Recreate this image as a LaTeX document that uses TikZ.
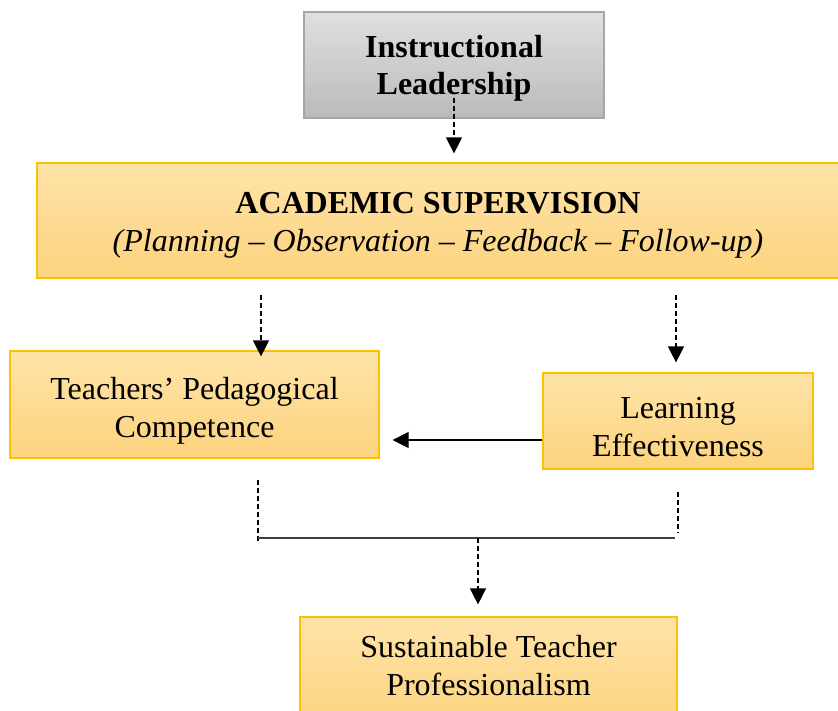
\documentclass[tikz,border=0pt]{standalone}
\usepackage{fontspec}
\setmainfont{Liberation Serif}
\usetikzlibrary{arrows.meta}

\definecolor{boxtop}{HTML}{FEE3A8}
\definecolor{boxbottom}{HTML}{FDD37E}
\definecolor{boxline}{HTML}{FFC000}
\definecolor{greytop}{HTML}{E0E0E0}
\definecolor{greybottom}{HTML}{BABABA}
\definecolor{greyline}{HTML}{A6A6A6}

\newcommand{\boxstrut}[1]{\rule{0pt}{#1}}
\newcommand{\boxfoot}[1]{\rule[-#1]{0pt}{0pt}}

\begin{document}
\begin{tikzpicture}[
    x=1pt,y=-1pt,
    leaderbox/.style={rectangle,draw=greyline,line width=1.2pt,top color=greytop,bottom color=greybottom,inner sep=0pt,align=center,font=\fontsize{32}{37}\selectfont\bfseries},
    factorbox/.style={rectangle,draw=boxline,line width=1.2pt,top color=boxtop,bottom color=boxbottom,inner sep=0pt,align=center,font=\fontsize{32}{38}\selectfont},
    dasharrow/.style={draw,line width=1.2pt,dash pattern=on 5pt off 3pt,-{Triangle[length=16pt,width=16pt]}},
    solidarrow/.style={draw,line width=1.2pt,-{Triangle[length=16pt,width=16pt]}}
    ]

    \useasboundingbox (0,0) rectangle (838,710);

    \node (lead) [leaderbox,minimum width=300pt,minimum height=106pt] at (454,65) {\boxstrut{28pt}Instructional\\Leadership};

    \node (acad) [factorbox,minimum width=802pt,minimum height=115pt] at (438,220.5) {
      \boxstrut{31pt}{\bfseries ACADEMIC SUPERVISION}\\
      \textit{(Planning – Observation – Feedback – Follow-up)}
    };

    \node (teach) [factorbox,minimum width=369pt,minimum height=107pt] at (194.5,404.5) {\boxstrut{34pt}Teachers’ Pedagogical\\Competence};
    \node (learn) [factorbox,minimum width=270pt,minimum height=96pt] at (678,421) {\boxstrut{33pt}Learning\\Effectiveness};
    \node (sust) [factorbox,minimum width=377pt,minimum height=110pt] at (488.5,672) {Sustainable Teacher\\Professionalism\boxfoot{13pt}};

    \coordinate (teachin) at (261,295);
    \coordinate (learnin) at (676,295);
    \coordinate (teachout) at (258,480);
    \coordinate (learnout) at (678,492);
    \coordinate (joinleft) at (258,538);
    \coordinate (joinright) at (678,538);
    \coordinate (joinmid) at (478,538);

    \draw[dasharrow] ([yshift=21pt]lead.south) -- ([yshift=9pt]lead.south |- acad.north);

    \draw[dasharrow] (teachin) -- ([yshift=-6pt]teachin |- teach.north);
    \draw[dasharrow] (learnin) -- ([yshift=10pt]learnin |- learn.north);

    \draw[solidarrow] ([yshift=-19pt]learn.west) -- ([xshift=13pt,yshift=-19pt]learn.west -| teach.east);

    \draw[line width=1.2pt,dash pattern=on 5pt off 3pt] (teachout) -- ([yshift=-5pt]joinleft);
    \draw[line width=1.2pt,dash pattern=on 5pt off 3pt] (learnout) -- ([yshift=5pt]joinright);
    \draw[line width=1.5pt,black!75] (joinleft) -- ([xshift=-3pt]joinright);
    \draw[dasharrow] (joinmid) -- ([yshift=12pt]joinmid |- sust.north);

  \end{tikzpicture}
\end{document}
